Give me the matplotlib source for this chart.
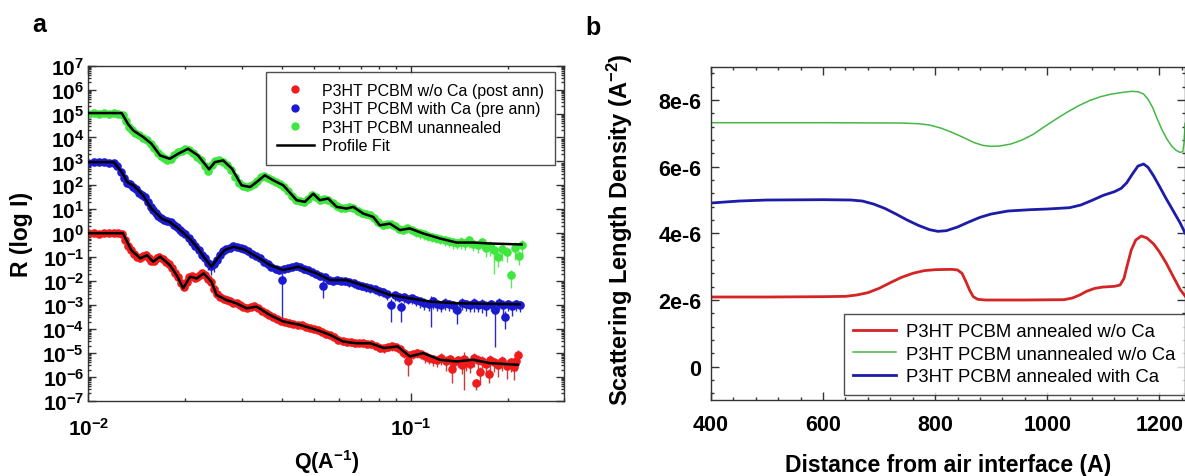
import numpy as np
import matplotlib
matplotlib.use("Agg")
import matplotlib.pyplot as plt
from matplotlib.ticker import LogLocator, FuncFormatter, MultipleLocator, NullFormatter

plt.rcParams['font.family'] = ['Liberation Sans', 'DejaVu Sans']
plt.rcParams['mathtext.fontset'] = 'custom'
plt.rcParams['mathtext.rm'] = 'Liberation Sans:bold'
plt.rcParams['mathtext.it'] = 'Liberation Sans:bold'
plt.rcParams['mathtext.bf'] = 'Liberation Sans:bold'
plt.rcParams['mathtext.default'] = 'rm'

# ---------------- Panel a: reflectivity (Q, log10 R) ----------------
fit_green = [(0.0100, 5.02), (0.0127, 5.02), (0.0133, 4.55), (0.0138, 4.29), (0.0148, 4.02),
             (0.0157, 3.74), (0.0167, 3.25), (0.0179, 3.11), (0.0190, 3.32), (0.0204, 3.53),
             (0.0219, 3.25), (0.0237, 2.67), (0.0247, 2.97), (0.0262, 3.04), (0.0279, 2.70),
             (0.0299, 2.00), (0.0318, 1.93), (0.0333, 2.14), (0.0353, 2.42), (0.0375, 2.21),
             (0.0403, 2.00), (0.0443, 1.38), (0.0470, 1.31), (0.0499, 1.65), (0.0523, 1.38),
             (0.0555, 1.45), (0.0590, 1.10), (0.0633, 1.03), (0.0664, 1.10), (0.0713, 0.82),
             (0.0766, 0.68), (0.0803, 0.33), (0.0863, 0.40), (0.0927, 0.13), (0.0995, 0.20),
             (0.1094, -0.01), (0.1233, -0.22), (0.1389, -0.39), (0.1564, -0.39), (0.1762, -0.43),
             (0.2210, -0.47)]
fit_blue = [(0.0100, 2.97), (0.0120, 2.97), (0.0127, 2.56), (0.0132, 2.14), (0.0138, 2.00),
            (0.0148, 1.58), (0.0157, 1.03), (0.0169, 0.61), (0.0179, 0.47), (0.0193, 0.13),
            (0.0207, -0.25), (0.0217, -0.57), (0.0230, -1.05), (0.0241, -1.40), (0.0252, -1.05),
            (0.0265, -0.70), (0.0282, -0.57), (0.0305, -0.68), (0.0333, -0.98), (0.0366, -1.33),
            (0.0403, -1.54), (0.0448, -1.40), (0.0511, -1.68), (0.0563, -1.96), (0.0633, -1.96),
            (0.0730, -2.23), (0.0863, -2.58), (0.0995, -2.72), (0.1155, -2.86), (0.1389, -2.93),
            (0.2180, -2.97)]
fit_red = [(0.0100, 0.0), (0.0128, 0.0), (0.0136, -0.71), (0.0145, -1.05), (0.0152, -0.92),
           (0.0159, -1.19), (0.0167, -0.98), (0.0179, -1.33), (0.0188, -1.75), (0.0197, -2.30),
           (0.0207, -1.82), (0.0217, -1.89), (0.0228, -1.68), (0.0241, -2.02), (0.0250, -2.58),
           (0.0268, -2.79), (0.0288, -2.93), (0.0310, -3.14), (0.0333, -3.07), (0.0366, -3.42),
           (0.0403, -3.69), (0.0453, -3.83), (0.0511, -4.04), (0.0563, -4.25), (0.0618, -4.53),
           (0.0681, -4.60), (0.0750, -4.60), (0.0827, -4.80), (0.0911, -4.73), (0.0995, -5.15),
           (0.1094, -5.01), (0.1233, -5.29), (0.1389, -5.36), (0.1564, -5.29), (0.1762, -5.43),
           (0.2155, -5.50)]

# measured points: (Q, log10 R, relative error)
data_green = [(0.0100, 5.00, .12), (0.0104, 5.02, .12), (0.0108, 4.98, .12), (0.0112, 5.02, .12),
              (0.0116, 5.00, .12), (0.0120, 5.03, .12), (0.0124, 4.99, .12), (0.0128, 4.95, .15),
              (0.0131, 4.70, .15), (0.0134, 4.45, .15), (0.0137, 4.30, .15), (0.0140, 4.18, .15),
              (0.0144, 4.10, .15), (0.0148, 3.98, .15), (0.0152, 3.90, .15), (0.0156, 3.72, .15),
              (0.0160, 3.55, .15), (0.0164, 3.36, .15), (0.0168, 3.22, .15), (0.0172, 3.15, .15),
              (0.0176, 3.08, .15), (0.0180, 3.12, .15), (0.0185, 3.25, .15), (0.0190, 3.38, .15),
              (0.0195, 3.45, .15), (0.0200, 3.52, .15), (0.0206, 3.48, .15), (0.0212, 3.35, .15),
              (0.0218, 3.20, .2), (0.0224, 3.05, .2), (0.0230, 2.80, .3), (0.0236, 2.62, .3),
              (0.0242, 2.85, .2), (0.0248, 3.00, .2), (0.0255, 3.05, .2), (0.0262, 2.98, .2),
              (0.0270, 2.85, .2), (0.0278, 2.65, .2), (0.0286, 2.35, .25), (0.0294, 2.08, .25),
              (0.0302, 1.98, .25), (0.0310, 1.92, .3), (0.0318, 1.96, .25), (0.0326, 2.05, .25),
              (0.0334, 2.20, .25), (0.0343, 2.35, .25), (0.0352, 2.40, .25), (0.0362, 2.30, .25),
              (0.0372, 2.22, .25), (0.0383, 2.15, .25), (0.0394, 2.05, .25), (0.0405, 1.95, .25),
              (0.0417, 1.75, .25), (0.0429, 1.55, .25), (0.0441, 1.40, .3), (0.0454, 1.35, .3),
              (0.0467, 1.30, .3), (0.0481, 1.45, .3), (0.0495, 1.60, .3), (0.0510, 1.50, .3),
              (0.0525, 1.40, .3), (0.0540, 1.45, .3), (0.0556, 1.40, .3), (0.0573, 1.25, .3),
              (0.0590, 1.12, .3), (0.0608, 1.05, .3), (0.0626, 1.05, .3), (0.0645, 1.08, .3),
              (0.0665, 1.05, .3), (0.0685, 0.92, .3), (0.0706, 0.85, .3), (0.0727, 0.80, .3),
              (0.0749, 0.75, .3), (0.0772, 0.62, .35), (0.0795, 0.45, .35), (0.0819, 0.35, .35),
              (0.0844, 0.38, .35), (0.0869, 0.38, .35), (0.0895, 0.30, .35), (0.0922, 0.18, .35),
              (0.0950, 0.15, .35), (0.0978, 0.20, .35), (0.1007, 0.15, .35), (0.1037, 0.05, .4),
              (0.1068, 0.00, .4), (0.1100, -0.05, .4), (0.1133, -0.10, .4), (0.1167, -0.15, .4),
              (0.1202, -0.20, .4), (0.1238, -0.25, .4), (0.1275, -0.28, .45), (0.1313, -0.32, .45),
              (0.1352, -0.38, .45), (0.1393, -0.40, .45), (0.1435, -0.35, .5), (0.1478, -0.42, .5),
              (0.1522, -0.30, .5), (0.1568, -0.45, .5), (0.1615, -0.50, .55), (0.1663, -0.38, .5),
              (0.1713, -0.60, .6), (0.1764, -0.55, .6), (0.1817, -0.70, .9), (0.1871, -1.00, .6),
              (0.1927, -0.65, .7), (0.1985, -0.80, .6), (0.2044, -1.75, .7), (0.2105, -0.60, .7),
              (0.2168, -0.95, .6), (0.2210, -0.50, .6)]
data_blue = [(0.0100, 2.95, .12), (0.0104, 2.98, .12), (0.0108, 2.96, .12), (0.0112, 2.98, .12),
             (0.0116, 2.95, .12), (0.0120, 2.93, .12), (0.0123, 2.80, .15), (0.0126, 2.55, .15),
             (0.0129, 2.30, .3), (0.0132, 2.10, .2), (0.0135, 2.05, .15), (0.0138, 1.95, .15),
             (0.0141, 1.85, .15), (0.0144, 1.70, .15), (0.0147, 1.60, .15), (0.0150, 1.50, .15),
             (0.0153, 1.30, .15), (0.0156, 1.10, .15), (0.0159, 0.95, .15), (0.0162, 0.85, .15),
             (0.0165, 0.72, .15), (0.0168, 0.62, .15), (0.0172, 0.55, .15), (0.0176, 0.50, .15),
             (0.0180, 0.45, .15), (0.0184, 0.35, .15), (0.0188, 0.25, .15), (0.0192, 0.15, .15),
             (0.0196, 0.05, .15), (0.0200, -0.05, .15), (0.0205, -0.20, .2), (0.0210, -0.35, .2),
             (0.0215, -0.55, .2), (0.0220, -0.70, .25), (0.0225, -0.90, .3), (0.0230, -1.05, .35),
             (0.0235, -1.25, .5), (0.0240, -1.35, .6), (0.0245, -1.30, .5), (0.0250, -1.10, .4),
             (0.0256, -0.90, .3), (0.0262, -0.75, .25), (0.0268, -0.65, .2), (0.0275, -0.60, .2),
             (0.0282, -0.55, .2), (0.0289, -0.58, .2), (0.0297, -0.62, .2), (0.0305, -0.68, .2),
             (0.0313, -0.75, .2), (0.0322, -0.85, .2), (0.0331, -0.95, .2), (0.0340, -1.05, .25),
             (0.0350, -1.20, .25), (0.0360, -1.30, .25), (0.0370, -1.40, .3), (0.0381, -1.50, .3),
             (0.0392, -1.55, .3), (0.0398, -1.96, .98), (0.0404, -1.50, .3), (0.0416, -1.45, .3),
             (0.0428, -1.40, .3), (0.0441, -1.38, .3), (0.0454, -1.42, .3), (0.0467, -1.50, .3),
             (0.0481, -1.55, .3), (0.0495, -1.62, .3), (0.0510, -1.70, .3), (0.0525, -1.80, .3),
             (0.0535, -2.20, .7), (0.0541, -1.85, .3), (0.0557, -1.95, .3), (0.0574, -2.00, .3),
             (0.0591, -1.95, .3), (0.0609, -1.98, .3), (0.0627, -2.00, .3), (0.0646, -2.05, .35),
             (0.0666, -2.10, .35), (0.0686, -2.15, .35), (0.0707, -2.20, .35), (0.0728, -2.25, .35),
             (0.0750, -2.30, .35), (0.0773, -2.35, .35), (0.0796, -2.42, .35), (0.0820, -2.45, .4),
             (0.0845, -2.55, .4), (0.0871, -3.00, .8), (0.0897, -2.60, .4), (0.0924, -2.65, .4),
             (0.0937, -3.10, .75), (0.0952, -2.68, .4), (0.0981, -2.75, .4), (0.1010, -2.72, .4),
             (0.1041, -2.80, .45), (0.1072, -2.85, .45), (0.1104, -2.90, .5), (0.1137, -2.95, .5),
             (0.1155, -2.92, .9), (0.1171, -2.85, .5), (0.1206, -2.95, .5), (0.1242, -3.00, .5),
             (0.1280, -2.90, .5), (0.1318, -2.95, .5), (0.1358, -3.00, .5), (0.1398, -3.20, .75),
             (0.1440, -2.90, .5), (0.1484, -2.95, .5), (0.1528, -3.00, .5), (0.1574, -2.90, .6),
             (0.1621, -3.00, .5), (0.1670, -2.95, .6), (0.1720, -3.05, .6), (0.1772, -2.95, .5),
             (0.1829, -3.23, .97), (0.1880, -2.90, .5), (0.1936, -3.00, .6), (0.1960, -3.50, .7),
             (0.2000, -2.95, .5), (0.2060, -3.05, .6), (0.2120, -2.95, .5), (0.2180, -3.00, .5)]
data_red = [(0.0100, 0.00, .12), (0.0104, 0.02, .12), (0.0108, -0.02, .12), (0.0112, 0.01, .12),
            (0.0116, 0.00, .12), (0.0120, 0.02, .12), (0.0124, -0.01, .12), (0.0127, -0.05, .12),
            (0.0130, -0.30, .15), (0.0133, -0.55, .15), (0.0136, -0.72, .15), (0.0139, -0.85, .15),
            (0.0142, -1.00, .15), (0.0145, -1.02, .15), (0.0148, -0.95, .15), (0.0151, -0.92, .15),
            (0.0154, -1.05, .15), (0.0157, -1.15, .15), (0.0160, -1.15, .15), (0.0163, -1.02, .15),
            (0.0166, -0.98, .15), (0.0170, -1.08, .15), (0.0174, -1.20, .15), (0.0178, -1.30, .15),
            (0.0182, -1.45, .15), (0.0186, -1.65, .15), (0.0190, -1.85, .2), (0.0194, -2.10, .2),
            (0.0198, -2.25, .2), (0.0202, -2.05, .2), (0.0206, -1.85, .2), (0.0210, -1.80, .2),
            (0.0214, -1.88, .2), (0.0218, -1.85, .2), (0.0222, -1.75, .2), (0.0226, -1.68, .2),
            (0.0231, -1.75, .2), (0.0236, -1.90, .2), (0.0241, -2.05, .2), (0.0246, -2.35, .2),
            (0.0251, -2.55, .2), (0.0257, -2.65, .2), (0.0263, -2.75, .2), (0.0269, -2.78, .2),
            (0.0275, -2.85, .2), (0.0282, -2.90, .2), (0.0289, -2.92, .2), (0.0296, -3.00, .2),
            (0.0303, -3.10, .2), (0.0311, -3.12, .2), (0.0319, -3.10, .2), (0.0327, -3.05, .2),
            (0.0336, -3.12, .2), (0.0345, -3.25, .2), (0.0355, -3.35, .2), (0.0365, -3.42, .2),
            (0.0375, -3.50, .2), (0.0386, -3.58, .2), (0.0397, -3.65, .25), (0.0409, -3.70, .25),
            (0.0421, -3.75, .25), (0.0433, -3.80, .25), (0.0446, -3.82, .25), (0.0459, -3.85, .25),
            (0.0473, -3.90, .25), (0.0487, -3.95, .25), (0.0501, -4.00, .25), (0.0516, -4.05, .25),
            (0.0531, -4.12, .25), (0.0547, -4.20, .25), (0.0563, -4.25, .25), (0.0580, -4.35, .3),
            (0.0597, -4.45, .3), (0.0615, -4.50, .3), (0.0633, -4.55, .3), (0.0652, -4.55, .3),
            (0.0672, -4.60, .3), (0.0692, -4.58, .3), (0.0713, -4.60, .3), (0.0734, -4.62, .3),
            (0.0756, -4.65, .3), (0.0779, -4.70, .3), (0.0802, -4.78, .35), (0.0826, -4.80, .35),
            (0.0851, -4.75, .35), (0.0876, -4.72, .35), (0.0902, -4.75, .35), (0.0929, -4.85, .4),
            (0.0957, -5.00, .4), (0.0983, -5.36, .75), (0.0986, -5.10, .4), (0.1016, -5.05, .4),
            (0.1046, -5.00, .4), (0.1077, -5.05, .4), (0.1109, -5.15, .45), (0.1142, -5.20, .45),
            (0.1176, -5.25, .5), (0.1211, -5.30, .5), (0.1247, -5.20, .5), (0.1284, -5.35, .6),
            (0.1322, -5.25, .5), (0.1340, -5.67, .75), (0.1361, -5.40, .6), (0.1401, -5.30, .5),
            (0.1442, -5.50, .6), (0.1470, -5.25, .95), (0.1485, -5.35, .6), (0.1529, -5.45, .6),
            (0.1574, -5.20, .6), (0.1600, -6.27, .5), (0.1620, -5.30, .6), (0.1645, -5.81, .7),
            (0.1668, -5.35, .6), (0.1717, -5.45, .6), (0.1750, -5.87, .6), (0.1768, -5.30, .6),
            (0.1820, -5.40, .6), (0.1874, -5.50, .7), (0.1929, -5.35, .6), (0.1986, -5.55, .7),
            (0.2045, -5.40, .6), (0.2090, -5.60, .7), (0.2120, -5.35, .6), (0.2155, -5.08, .6)]

labels_a = ["P3HT PCBM w/o Ca (post ann)", "P3HT PCBM with Ca (pre ann)",
            "P3HT PCBM unannealed", "Profile Fit"]

# ---------------- Panel b: SLD profiles (distance, SLD in 1e-6 A^-2) ----------------
sld_red = [(400, 2.09), (500, 2.09), (600, 2.10), (640, 2.11), (660, 2.15), (680, 2.22),
           (700, 2.35), (720, 2.52), (740, 2.68), (760, 2.80), (780, 2.88), (800, 2.91),
           (830, 2.92), (840, 2.90), (848, 2.80), (855, 2.55), (862, 2.28), (868, 2.10),
           (876, 2.02), (890, 2.00), (960, 2.00), (1030, 2.01), (1045, 2.06), (1058, 2.15),
           (1070, 2.26), (1085, 2.35), (1100, 2.39), (1120, 2.41), (1130, 2.45), (1137, 2.65),
           (1143, 3.05), (1150, 3.50), (1158, 3.80), (1168, 3.92), (1178, 3.86), (1190, 3.68),
           (1200, 3.45), (1212, 3.12), (1225, 2.70), (1237, 2.32), (1246, 2.12)]
sld_green = [(400, 7.32), (600, 7.32), (740, 7.31), (770, 7.29), (790, 7.25), (810, 7.16),
             (830, 7.03), (850, 6.88), (870, 6.72), (885, 6.64), (900, 6.61), (915, 6.62),
             (935, 6.68), (955, 6.80), (975, 6.97), (995, 7.20), (1015, 7.42), (1035, 7.63),
             (1055, 7.82), (1075, 7.98), (1095, 8.10), (1115, 8.18), (1135, 8.23), (1150, 8.26),
             (1162, 8.25), (1172, 8.18), (1180, 8.02), (1188, 7.78), (1196, 7.45), (1205, 7.10),
             (1214, 6.82), (1222, 6.62), (1230, 6.49), (1237, 6.43), (1242, 6.45), (1244, 6.70),
             (1246, 7.30)]
sld_blue = [(400, 4.91), (450, 4.97), (500, 5.00), (600, 5.01), (650, 5.00), (670, 4.97),
            (690, 4.88), (710, 4.75), (730, 4.58), (750, 4.40), (770, 4.24), (790, 4.11),
            (805, 4.06), (820, 4.08), (840, 4.19), (860, 4.34), (880, 4.48), (900, 4.58),
            (930, 4.67), (970, 4.71), (1000, 4.73), (1040, 4.77), (1060, 4.85), (1080, 4.99),
            (1100, 5.14), (1120, 5.25), (1132, 5.35), (1142, 5.52), (1152, 5.78), (1162, 6.02),
            (1172, 6.08), (1180, 5.98), (1190, 5.72), (1200, 5.42), (1212, 5.05), (1225, 4.67),
            (1237, 4.32), (1246, 4.01)]
labels_b = ["P3HT PCBM annealed w/o Ca", "P3HT PCBM unannealed w/o Ca", "P3HT PCBM annealed with Ca"]
yticks_b = [0, 2e-6, 4e-6, 6e-6, 8e-6]
yticklabels_b = ["0", "2e-6", "4e-6", "6e-6", "8e-6"]
xticks_b = [400, 600, 800, 1000, 1200]

W, H = 1185, 477
fig = plt.figure(figsize=(W / 100, H / 100), dpi=100)

def axrect(l, t, r, b):
    return [l / W, 1 - b / H, (r - l) / W, (b - t) / H]

# ---------- Panel a ----------
ax = fig.add_axes(axrect(88.3, 66.7, 564.3, 401.7))
ax.set_xscale('log')
ax.set_yscale('log')

series = [(data_red, '#f01c1c', '#c83c3c'), (data_blue, '#1a1ad2', '#2a2ac8'),
          (data_green, '#3ee63e', '#5ee65e')]
for dat, mc, ec in series:
    q, lr, rel = zip(*dat)
    q = np.array(q)
    r = 10 ** np.array(lr)
    rel = np.array(rel)
    ax.errorbar(q, r, yerr=[r * rel, r * rel], fmt='o', ms=6.2, mfc=mc, mec=mc, mew=0,
                ecolor=ec, elinewidth=1.0, capsize=3, capthick=1.0, zorder=2)

for fit in (fit_red, fit_blue, fit_green):
    fq, fl = zip(*fit)
    ax.plot(fq, 10 ** np.array(fl), color='black', lw=1.8, zorder=4)

ax.set_xlim(0.01, 0.3)
ax.set_ylim(1e-7, 1e7)
ax.yaxis.set_major_locator(LogLocator(base=10, numticks=30))
ax.yaxis.set_minor_locator(LogLocator(base=10, subs=np.arange(2, 10), numticks=30))
ax.yaxis.set_minor_formatter(NullFormatter())
ax.yaxis.set_major_formatter(FuncFormatter(lambda v, p: r'$10^{%d}$' % round(np.log10(v))))
ax.xaxis.set_major_locator(LogLocator(base=10, numticks=10))
ax.xaxis.set_minor_locator(LogLocator(base=10, subs=np.arange(2, 10), numticks=10))
ax.xaxis.set_minor_formatter(NullFormatter())
ax.xaxis.set_major_formatter(FuncFormatter(lambda v, p: r'$10^{%d}$' % round(np.log10(v))))
ax.tick_params(which='both', direction='in', top=True, right=True, width=1, color='#333333')
ax.tick_params(which='major', length=5.5)
ax.tick_params(which='minor', length=2.5)
ax.tick_params(axis='y', which='major', labelsize=15, pad=3)
ax.tick_params(axis='x', which='major', labelsize=15, pad=12)
for s in ax.spines.values():
    s.set_color('#333333')
    s.set_linewidth(1.0)

ax.set_ylabel('R (log I)', fontsize=16.5, fontweight='bold')
ax.yaxis.set_label_coords(-0.116, 0.5)
ax.set_xlabel(r'Q(A$^{-1}$)', fontsize=15.5, fontweight='bold')
ax.xaxis.set_label_coords(0.5, -0.138)

leg_handles = [plt.Line2D([], [], ls='none', marker='o', ms=6, mfc=c, mec=c, mew=0)
               for c in ('#f01c1c', '#1a1ad2', '#3ee63e')]
leg_handles.append(plt.Line2D([], [], color='black', lw=1.8))
leg = ax.legend(leg_handles, labels_a, loc='upper right', bbox_to_anchor=(0.9805, 0.982),
                borderaxespad=0, fontsize=11.5, frameon=True, fancybox=False, edgecolor='#222222',
                handlelength=2.3, handletextpad=0.5, labelspacing=0.22, borderpad=0.7)
leg.get_frame().set_linewidth(1.0)

fig.text(39 / W, 1 - 25 / H, 'a', fontsize=18, fontweight='bold', ha='center', va='center')

# ---------- Panel b ----------
bx = fig.add_axes(axrect(711, 67.7, 1184.5, 401))
lines = []
for prof, col, lw in ((sld_red, '#d42424', 2.0), (sld_green, '#44b844', 1.1), (sld_blue, '#1c1ca8', 2.0)):
    d, v = zip(*prof)
    ln, = bx.plot(d, np.array(v) * 1e-6, color=col, lw=lw)
    lines.append(ln)
bx.set_xlim(400, 1245)
bx.set_ylim(-1e-6, 9e-6)
bx.set_xticks(xticks_b)
bx.xaxis.set_minor_locator(MultipleLocator(40))
bx.set_yticks(yticks_b)
bx.set_yticklabels(yticklabels_b)
bx.yaxis.set_minor_locator(MultipleLocator(0.4e-6))
bx.tick_params(which='both', direction='in', top=True, right=True, width=1, color='#333333')
bx.tick_params(which='major', length=6)
bx.tick_params(which='minor', length=2.5)
bx.tick_params(axis='y', which='major', labelsize=15.5, pad=7)
bx.tick_params(axis='x', which='major', labelsize=15.5, pad=10)
for lab in bx.get_xticklabels() + bx.get_yticklabels():
    lab.set_fontweight('bold')
for s in bx.spines.values():
    s.set_color('#333333')
    s.set_linewidth(1.0)
bx.set_ylabel(r'Scattering Length Density (A$^{-2}$)', fontsize=17, fontweight='bold')
bx.yaxis.set_label_coords(-0.161, 0.515)
bx.set_xlabel('Distance from air interface (A)', fontsize=16.5, fontweight='bold')
bx.xaxis.set_label_coords(0.5, -0.160)
leg2 = bx.legend(lines, labels_b, loc='lower right', bbox_to_anchor=(1.0, 0.016),
                 borderaxespad=0, fontsize=13.3, frameon=True, fancybox=False, edgecolor='#222222',
                 handlelength=2.3, handletextpad=0.55, labelspacing=0.3, borderpad=0.5)
leg2.get_frame().set_linewidth(1.0)

fig.text(593 / W, 1 - 28 / H, 'b', fontsize=18, fontweight='bold', ha='center', va='center')

fig.savefig('out.png', dpi=100)
